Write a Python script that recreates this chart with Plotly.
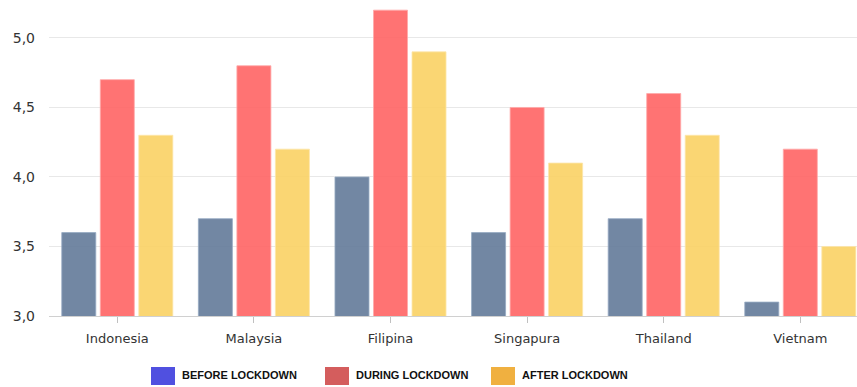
import plotly.graph_objects as go

categories = ["Indonesia", "Malaysia", "Filipina", "Singapura", "Thailand", "Vietnam"]
before = [3.6, 3.7, 4.0, 3.6, 3.7, 3.1]
during = [4.7, 4.8, 5.2, 4.5, 4.6, 4.2]
after = [4.3, 4.2, 4.9, 4.1, 4.3, 3.5]
series_names = ["BEFORE LOCKDOWN", "DURING LOCKDOWN", "AFTER LOCKDOWN"]
bar_colors = ["rgba(94,118,150,0.88)", "rgba(255,100,100,0.9)", "rgba(250,210,100,0.9)"]
line_colors = ["rgba(150,170,195,0.8)", "rgba(255,170,170,0.8)", "rgba(252,230,170,0.8)"]
legend_colors = ["#5050E0", "#D45D5D", "#F0B040"]

W, H = 857, 387
ML, MR, MT, MB = 49, 0, 0, 71

fig = go.Figure()
for name, vals, c, lc in zip(series_names, [before, during, after], bar_colors, line_colors):
    fig.add_trace(go.Bar(
        x=categories, y=vals, name=name,
        marker=dict(color=c, line=dict(color=lc, width=1)),
        showlegend=False,
    ))

fig.update_layout(
    width=W, height=H,
    margin=dict(l=ML, r=MR, t=MT, b=MB),
    paper_bgcolor="white", plot_bgcolor="white",
    barmode="group", bargap=0.154, bargroupgap=0.117,
    separators=",.",
    font=dict(family="DejaVu Sans", color="#333"),
    xaxis=dict(
        range=[-0.5, 5.415],
        showgrid=False, showline=True, linecolor="#d0d0d0", linewidth=1,
        ticks="outside", ticklen=6, tickcolor="#c0c0c0",
        tickfont=dict(size=13, color="#333"),
        ticklabelstandoff=4,
    ),
    yaxis=dict(
        range=[3.0, 5.273],
        tickvals=[3.0, 3.5, 4.0, 4.5, 5.0],
        tickformat=".1f",
        showgrid=True, gridcolor="#e8e8e8", gridwidth=1,
        zeroline=False, showline=False,
        tickfont=dict(size=14, color="#333"),
        ticklabelstandoff=13,
    ),
)

plot_w = W - ML - MR
plot_h = H - MT - MB

def px_x(px):
    return (px - ML) / plot_w

def px_y(py):
    return (H - MB - py) / plot_h

legend_x = [151, 325, 491]
for lx, col, name in zip(legend_x, legend_colors, series_names):
    fig.add_shape(type="rect", xref="paper", yref="paper",
                  x0=px_x(lx), x1=px_x(lx + 24), y0=px_y(385), y1=px_y(367),
                  fillcolor=col, line=dict(width=0), layer="above")
    fig.add_annotation(xref="paper", yref="paper", x=px_x(lx + 29), y=px_y(375),
                       text="<b>" + name + "</b>", showarrow=False,
                       xanchor="left", yanchor="middle",
                       font=dict(family="Liberation Sans", size=11, color="#111"))

fig.write_html("out.html")
